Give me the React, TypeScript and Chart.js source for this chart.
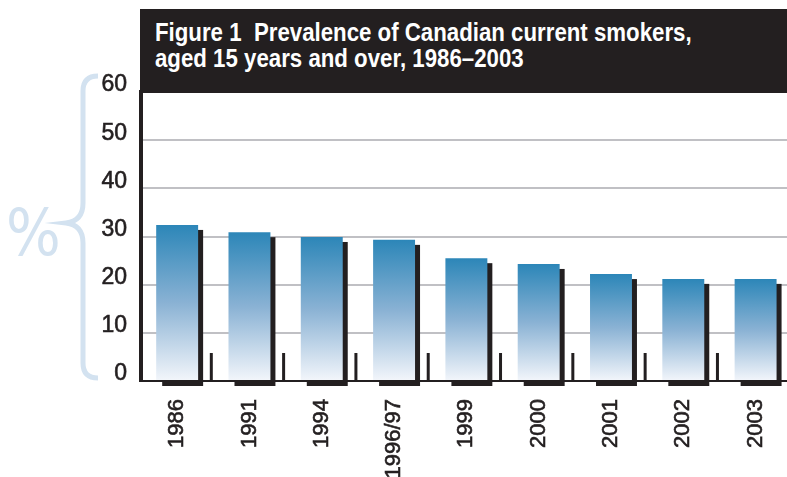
import React, { useEffect, useRef } from 'react';
import { Chart, registerables } from 'chart.js';

Chart.register(...registerables);

// Survey years and the share of Canadians aged 15+ who currently smoke (%)
const YEARS = ['1986', '1991', '1994', '1996/97', '1999', '2000', '2001', '2002', '2003'];
const SMOKERS_PCT = [32.4, 30.9, 29.9, 29.3, 25.5, 24.3, 22.2, 21.2, 21.2];
const Y_MIN = 0;
const Y_MAX = 60;
const Y_STEP = 10;

const TITLE_LINES = [
  'Figure 1\u00a0\u00a0Prevalence of Canadian current smokers,',
  'aged 15 years and over, 1986\u20132003',
];
const UNIT_LABEL = '%';

const INK = '#231f20';
const GRID = '#c0c0c4';
const PALE_BLUE = '#d3e2f0';
const BAR_TOP = '#2c86b8';
const BAR_MID = '#8ab2d4';
const BAR_BOTTOM = '#f3f6fb';

const CONDENSED = "'DejaVu Sans Condensed', 'Liberation Sans', sans-serif";
const SANS = "'Liberation Sans', Arial, sans-serif";

// Drop shadow behind each bar (offset right/down), plus short separators between categories
const barDecor = {
  id: 'barDecor',
  beforeDatasetsDraw(chart: any) {
    const { ctx } = chart;
    const meta = chart.getDatasetMeta(0);
    ctx.save();
    ctx.fillStyle = INK;
    meta.data.forEach((bar: any) => {
      const { x, y, base, width } = bar.getProps(['x', 'y', 'base', 'width'], true);
      ctx.fillRect(x - width / 2 + 6, y + 5, width - 1, base - y + 1);
    });
    ctx.restore();
  },
  afterDatasetsDraw(chart: any) {
    const { ctx } = chart;
    const xs = chart.scales.x;
    const ys = chart.scales.y;
    const base = ys.getPixelForValue(0);
    ctx.save();
    ctx.fillStyle = INK;
    for (let i = 1; i < YEARS.length; i++) {
      const mid = (xs.getPixelForValue(i - 1) + xs.getPixelForValue(i)) / 2 - 2;
      ctx.fillRect(mid - 1.5, base - 28, 3, 28);
    }
    ctx.restore();
  },
};

// Curly brace grouping the value axis
const axisBrace = {
  id: 'axisBrace',
  afterDraw(chart: any) {
    const { ctx, chartArea } = chart;
    const top = chartArea.top - 18;
    const bottom = chartArea.bottom - 1;
    const mid = (top + bottom) / 2 - 4;
    const xr = 98;
    const xv = 83;
    const xt = 66;
    ctx.save();
    ctx.strokeStyle = PALE_BLUE;
    ctx.lineWidth = 5;
    ctx.lineCap = 'butt';
    ctx.beginPath();
    ctx.moveTo(xr, top + 2);
    ctx.quadraticCurveTo(xv, top + 2, xv, top + 17);
    ctx.lineTo(xv, mid - 20);
    ctx.quadraticCurveTo(xv, mid - 2, xt, mid);
    ctx.quadraticCurveTo(xv, mid + 2, xv, mid + 20);
    ctx.lineTo(xv, bottom - 17);
    ctx.quadraticCurveTo(xv, bottom - 2, xr, bottom - 2);
    ctx.stroke();
    ctx.restore();
  },
};

function barGradient(context: any) {
  const chart = context.chart;
  if (!chart.chartArea || context.type !== 'data') return BAR_TOP;
  const ys = chart.scales.y;
  const top = ys.getPixelForValue(context.raw);
  const base = ys.getPixelForValue(0);
  const g = chart.ctx.createLinearGradient(0, top, 0, base);
  g.addColorStop(0, BAR_TOP);
  g.addColorStop(0.5, BAR_MID);
  g.addColorStop(1, BAR_BOTTOM);
  return g;
}

export default function App() {
  const canvasRef = useRef<HTMLCanvasElement | null>(null);

  useEffect(() => {
    if (!canvasRef.current) return;
    const chart = new Chart(canvasRef.current, {
      type: 'bar',
      data: {
        labels: YEARS,
        datasets: [
          {
            data: SMOKERS_PCT,
            backgroundColor: barGradient,
            borderWidth: 0,
            barPercentage: 0.58,
            categoryPercentage: 1,
          },
        ],
      },
      options: {
        responsive: false,
        animation: false,
        devicePixelRatio: 1,
        layout: { padding: { top: 92, left: 0, right: 0, bottom: 0 } },
        plugins: {
          legend: { display: false },
          tooltip: { enabled: false },
          title: { display: false },
        },
        scales: {
          x: {
            grid: { display: false },
            border: { display: true, color: INK, width: 2 },
            ticks: {
              color: INK,
              textStrokeColor: INK,
              textStrokeWidth: 0.6,
              font: { family: SANS, size: 22 },
              minRotation: 90,
              maxRotation: 90,
              padding: 10,
              autoSkip: false,
            },
            afterFit(scale: any) {
              scale.height = 96;
            },
          },
          y: {
            min: Y_MIN,
            max: Y_MAX,
            grid: {
              display: true,
              drawTicks: false,
              lineWidth: 2,
              color: (c: any) => (c.tick && c.tick.value > Y_MIN && c.tick.value < Y_MAX ? GRID : 'rgba(0,0,0,0)'),
            },
            border: { display: true, color: INK, width: 4 },
            ticks: {
              stepSize: Y_STEP,
              color: INK,
              textStrokeColor: INK,
              textStrokeWidth: 0.6,
              font: { family: SANS, size: 23 },
              padding: 14,
              labelOffset: -7,
            },
            afterFit(scale: any) {
              scale.width = 141;
            },
          },
        },
      },
      plugins: [barDecor, axisBrace],
    });
    return () => chart.destroy();
  }, []);

  return (
    <div
      style={{
        position: 'absolute',
        left: 0,
        top: 0,
        width: 787,
        height: 477,
        overflow: 'hidden',
        background: '#ffffff',
      }}
    >
      <canvas ref={canvasRef} width={792} height={477} style={{ position: 'absolute', left: 0, top: 0 }} />
      <div
        style={{
          position: 'absolute',
          left: 140,
          top: 9,
          width: 660,
          height: 84,
          background: INK,
          color: '#ffffff',
          fontFamily: SANS,
          fontWeight: 'bold',
          fontSize: 25,
          lineHeight: '26px',
          boxSizing: 'border-box',
          paddingLeft: 15,
          paddingTop: 10,
          whiteSpace: 'nowrap',
        }}
      >
        {TITLE_LINES.map((line) => (
          <div key={line} style={{ transform: 'scaleX(0.89)', transformOrigin: 'left center' }}>
            {line}
          </div>
        ))}
      </div>
      <div
        style={{
          position: 'absolute',
          left: 6,
          top: 201,
          fontFamily: CONDENSED,
          fontSize: 64,
          lineHeight: '64px',
          color: PALE_BLUE,
        }}
      >
        {UNIT_LABEL}
      </div>
    </div>
  );
}
